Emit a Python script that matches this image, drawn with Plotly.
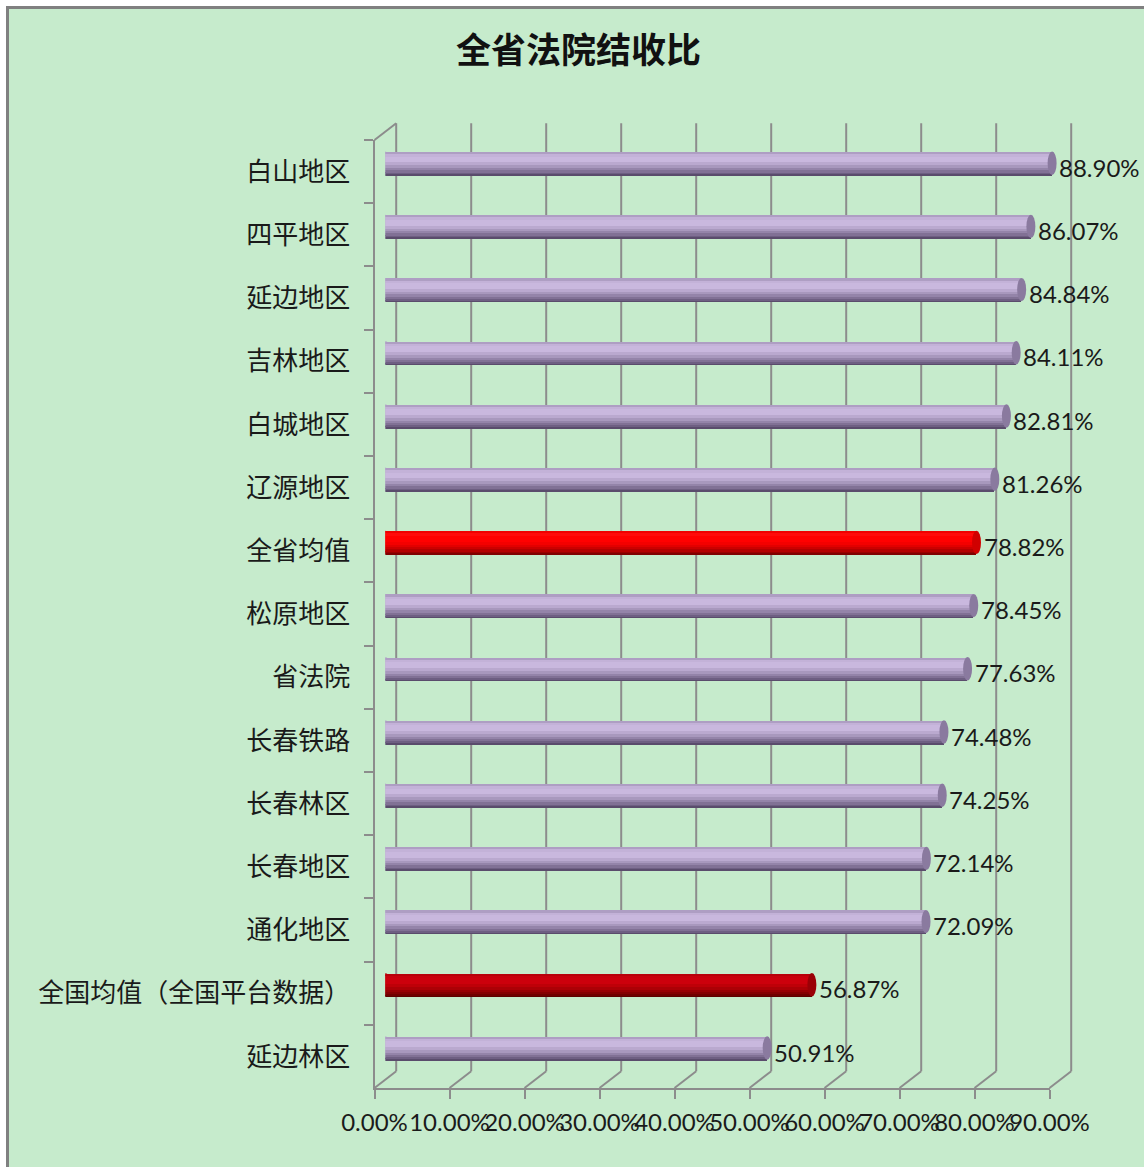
import plotly.graph_objects as go

# ---------------- data (top to bottom as shown) ----------------
categories = ["白山地区", "四平地区", "延边地区", "吉林地区", "白城地区", "辽源地区",
              "全省均值", "松原地区", "省法院", "长春铁路", "长春林区", "长春地区",
              "通化地区", "全国均值（全国平台数据）", "延边林区"]
values = [0.8890, 0.8607, 0.8484, 0.8411, 0.8281, 0.8126,
          0.7882, 0.7845, 0.7763, 0.7448, 0.7425, 0.7214,
          0.7209, 0.5687, 0.5091]
bar_kind = ["p", "p", "p", "p", "p", "p", "r1", "p", "p", "p", "p", "p", "p", "r2", "p"]
tick_vals = [0.0, 0.1, 0.2, 0.3, 0.4, 0.5, 0.6, 0.7, 0.8, 0.9]
title_text = "全省法院结收比"

# plotly draws categories bottom-up, so reverse
cats = categories[::-1]
vals = values[::-1]
kinds = bar_kind[::-1]
n = len(cats)

W, H = 1144, 1167
BG = "#C6EBCC"
GRID = "#8C8C8C"
XMAX = 0.9

def px(x):  # page pixel -> paper fraction
    return x / W

def py(y):
    return 1 - y / H

# geometry (page pixels)
FX0, FX1 = 374.5, 1049.5      # front axis 0% .. 90%
FY0, FY1 = 140.0, 1088.0      # front axis top .. bottom
DX, DY = 21.7, -16.8          # depth offset (front -> back)
MX, MY = DX / 2, DY / 2       # bar depth (middle)

# gradient strips (fraction of bar thickness, bottom -> top)
strips = [(0.00, 0.07), (0.07, 0.14), (0.14, 0.22), (0.22, 0.31), (0.31, 0.42),
          (0.42, 0.55), (0.55, 0.80), (0.80, 0.92), (0.92, 1.00)]
palette = {
    "p":  ["#5A4C6C", "#6E5F82", "#817195", "#9484A9", "#A898BD", "#BAA9CF",
           "#C9B8DE", "#C3B2D8", "#AE9EC3"],
    "r1": ["#800000", "#9A0000", "#B40000", "#CC0000", "#E20000", "#F40000",
           "#FF0000", "#FF0A0A", "#F00000"],
    "r2": ["#5E0000", "#700000", "#840002", "#980004", "#AC0006", "#BE0008",
           "#CC000C", "#C8000C", "#B8000A"],
}
cap_col = {"p": "#8A7A9F", "r1": "#D00000", "r2": "#9A0006"}
start_col = {"p": "#B4A3C9", "r1": "#EE0000", "r2": "#BC0008"}
THICK = 0.37

fig = go.Figure()

for si, (a, b) in enumerate(strips):
    fig.add_trace(go.Bar(
        x=vals, y=list(range(n)), orientation="h",
        base=0,
        offset=-THICK / 2 + a * THICK,
        width=(b - a) * THICK,
        marker=dict(color=[palette[k][si] for k in kinds], line=dict(width=0)),
        xaxis="x3", yaxis="y3", hoverinfo="skip", showlegend=False,
    ))

# invisible trace to populate front category axis
fig.add_trace(go.Scatter(x=vals, y=cats, mode="markers", marker=dict(opacity=0),
                         xaxis="x", yaxis="y", hoverinfo="skip", showlegend=False))

shapes = []
# white outer strip (top & left) and grey frame
shapes.append(dict(type="rect", xref="paper", yref="paper", x0=0, x1=1, y0=py(6), y1=1,
                   fillcolor="white", line=dict(width=0), layer="below"))
shapes.append(dict(type="rect", xref="paper", yref="paper", x0=0, x1=px(6), y0=0, y1=1,
                   fillcolor="white", line=dict(width=0), layer="below"))
shapes.append(dict(type="line", xref="paper", yref="paper",
                   x0=px(6), x1=1, y0=py(7.5), y1=py(7.5),
                   line=dict(color="#808080", width=3), layer="above"))
shapes.append(dict(type="line", xref="paper", yref="paper",
                   x0=px(7.5), x1=px(7.5), y0=0, y1=py(6),
                   line=dict(color="#808080", width=3), layer="above"))

for t in tick_vals:
    xf = FX0 + t / XMAX * (FX1 - FX0)
    xb = xf + DX
    shapes.append(dict(type="line", xref="paper", yref="paper",
                       x0=px(xb), x1=px(xb), y0=py(FY1 + DY), y1=py(FY0 + DY),
                       line=dict(color=GRID, width=2), layer="below"))
    shapes.append(dict(type="line", xref="paper", yref="paper",
                       x0=px(xf), x1=px(xb), y0=py(FY1), y1=py(FY1 + DY),
                       line=dict(color=GRID, width=2), layer="below"))
shapes.append(dict(type="line", xref="paper", yref="paper",
                   x0=px(FX0), x1=px(FX0 + DX), y0=py(FY0), y1=py(FY0 + DY),
                   line=dict(color=GRID, width=2), layer="below"))

# cylinder ends
d = 4.5 / (FX1 - FX0) * XMAX
for i, (v, k) in enumerate(zip(vals, kinds)):
    shapes.append(dict(type="circle", xref="x3", yref="y3",
                       x0=-d, x1=d, y0=i - THICK / 2, y1=i + THICK / 2,
                       fillcolor=start_col[k], line=dict(width=0), layer="below"))
    shapes.append(dict(type="circle", xref="x3", yref="y3",
                       x0=v - d, x1=v + d, y0=i - THICK / 2, y1=i + THICK / 2,
                       fillcolor=cap_col[k], line=dict(width=0), layer="above"))

LATIN = "Lato, 'Liberation Sans', sans-serif"
annotations = []
for i, v in enumerate(vals):
    annotations.append(dict(x=v, y=i, xref="x3", yref="y3", text=f"{v*100:.2f}%",
                            showarrow=False, xanchor="left", yanchor="middle",
                            xshift=5, yshift=-4,
                            font=dict(family=LATIN, size=24, color="#1A1A1A")))
annotations.append(dict(x=px(578), y=py(48), xref="paper", yref="paper",
                        text=f"<b>{title_text}</b>", showarrow=False,
                        xanchor="center", yanchor="middle",
                        font=dict(family="Noto Sans CJK SC", size=35, color="#111111")))

fig.update_layout(
    width=W, height=H,
    margin=dict(l=0, r=0, t=0, b=0, pad=0, autoexpand=False),
    paper_bgcolor=BG, plot_bgcolor="rgba(0,0,0,0)",
    barmode="overlay", bargap=0,
    showlegend=False,
    shapes=shapes, annotations=annotations,
    xaxis=dict(domain=[px(FX0), px(FX1)], range=[0, XMAX], anchor="y",
               tickvals=tick_vals, tickformat=".2%", tickangle=0, automargin=False,
               showgrid=False, zeroline=False, showline=True, linecolor=GRID, linewidth=2,
               ticks="outside", ticklen=9, tickwidth=2, tickcolor=GRID,
               tickfont=dict(family=LATIN, size=24, color="#1A1A1A"),
               ticklabelstandoff=3),
    yaxis=dict(domain=[py(FY1), py(FY0)], anchor="x", type="category",
               categoryorder="array", categoryarray=cats, range=[-0.5, n - 0.5],
               automargin=False,
               showgrid=False, zeroline=False, showline=True, linecolor=GRID, linewidth=2,
               ticks="outside", tickson="boundaries", ticklen=9, tickwidth=2, tickcolor=GRID,
               tickfont=dict(family="Noto Sans CJK SC", size=26, color="#1A1A1A"),
               ticklabelstandoff=17),
    xaxis3=dict(domain=[px(FX0 + MX), px(FX1 + MX)], range=[0, XMAX], anchor="y3",
                visible=False, automargin=False),
    yaxis3=dict(domain=[py(FY1 + MY), py(FY0 + MY)], range=[-0.5, n - 0.5], anchor="x3",
                visible=False, automargin=False),
)

fig.write_html(
    "out.html",
    config={"displayModeBar": False},
    post_script="document.documentElement.style.overflow='hidden';"
                "document.body.style.overflow='hidden';"
                "document.body.style.margin='0';",
)
